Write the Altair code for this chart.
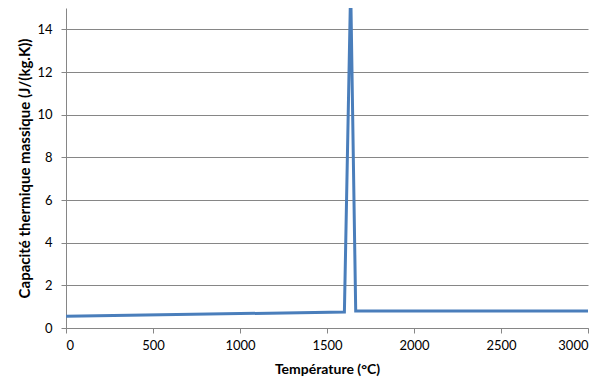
import altair as alt
import pandas as pd

temperature = [0, 1600, 1636, 1665, 3000]
capacity = [0.55, 0.75, 16.0, 0.8, 0.8]

df = pd.DataFrame({"T": temperature, "c": capacity})

font = "Lato"

chart = alt.Chart(df).mark_line(color="#4A7EBB", strokeWidth=3, clip=True).encode(
    x=alt.X("T:Q", scale=alt.Scale(domain=[0, 3000], nice=False),
            axis=alt.Axis(title="Température (°C)", values=[0, 500, 1000, 1500, 2000, 2500, 3000],
                          format="d", grid=False, titlePadding=10, labelPadding=6, titleFontSize=14)),
    y=alt.Y("c:Q", scale=alt.Scale(domain=[0, 15], nice=False),
            axis=alt.Axis(title="Capacité thermique massique (J/(kg.K))", values=[0, 2, 4, 6, 8, 10, 12, 14],
                          format="d", grid=True, titlePadding=4, labelPadding=9, titleFontSize=15)),
    order=alt.Order("T:Q"),
).properties(
    width=522, height=320, background="white",
    autosize=alt.AutoSizeParams(type="none"),
    padding={"left": 58, "top": 0, "right": 8, "bottom": 49},
).configure_axis(
    labelFont=font, labelFontSize=13, labelColor="#000000",
    titleFont=font, titleFontWeight="bold", titleColor="#000000",
    domainColor="#868686", tickColor="#868686", gridColor="#868686",
    tickSize=5,
).configure_view(stroke=None)

chart.save("out.html", embed_options={"renderer": "svg", "actions": False})
